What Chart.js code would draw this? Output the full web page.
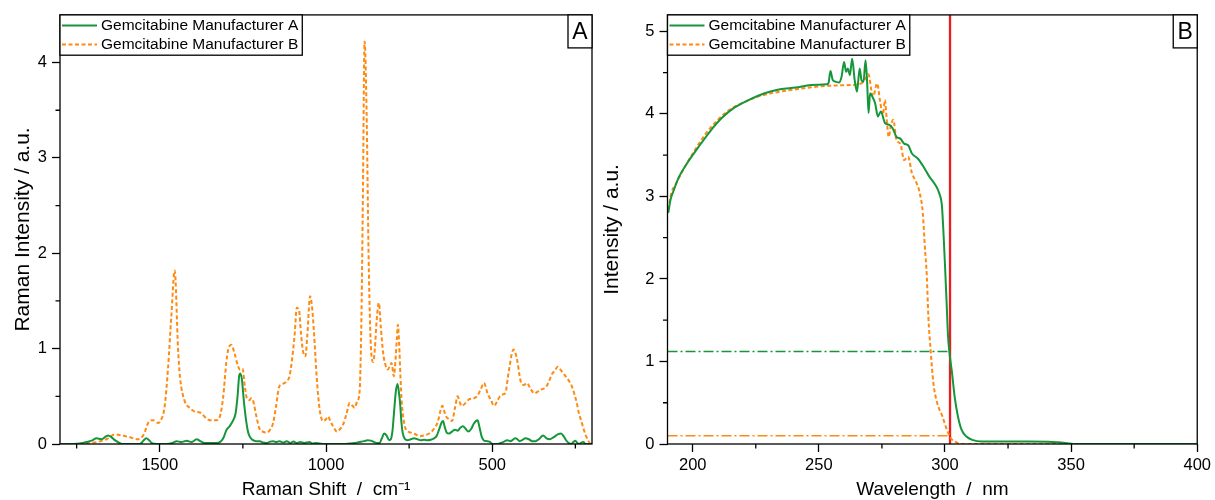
<!DOCTYPE html>
<html><head><meta charset="utf-8">
<script src="https://cdn.jsdelivr.net/npm/chart.js@4.4.1/dist/chart.umd.min.js"></script>
<style>
html,body{margin:0;padding:0;background:#fff;}
#wrap{position:relative;width:1215px;height:500px;overflow:hidden;background:#fff;}
canvas{position:absolute;top:0;}
#cA{left:0;} #cB{left:600px;}
</style></head><body>
<div id="wrap"><canvas id="cA" width="600" height="500"></canvas><canvas id="cB" width="615" height="500"></canvas></div>
<script>
// ---------- Panel A : Raman spectra ----------
const seriesNames = ['Gemcitabine Manufacturer A', 'Gemcitabine Manufacturer B'];

const ramanShiftA = [1800,1760,1740,1720,1705,1690,1675,1662,1655,1645,1635,1620,1610,1560,1548,1541,1532,1524,1510,1480,1462,1449,1435,1419,1405,1389,1378,1365,1349,1330,1319,1309,1299,1289,1279,1272,1266,1261,1258,1253,1247,1240,1234,1228,1220,1210,1199,1190,1179,1168,1159,1150,1140,1128,1118,1108,1098,1088,1078,1065,1050,1040,1030,1010,950,930,915,900,885,875,865,855,845,839,832,825,818,810,805,800,795,790,785,781,777,773,769,762,755,745,735,725,715,705,695,685,675,668,660,653,648,643,637,630,621,612,604,596,588,580,572,563,556,549,544,538,532,526,516,506,500,487,475,467,455,445,431,424,418,410,400,390,380,370,360,347,337,327,316,303,293,285,279,270,263,256,250,244,238,232,226,219,200];
const ramanIntA = [0,0,0.005,0.02,0.035,0.06,0.05,0.08,0.09,0.07,0.04,0.01,0,0,0.04,0.06,0.04,0.01,0,0,0.01,0.03,0.02,0.035,0.02,0.05,0.03,0.01,0.01,0.01,0.02,0.06,0.15,0.19,0.25,0.32,0.5,0.72,0.74,0.68,0.45,0.24,0.12,0.07,0.04,0.03,0.03,0.015,0.01,0.025,0.03,0.02,0.03,0.015,0.03,0.01,0.025,0.01,0.02,0.01,0.02,0.005,0.01,0,0,0.005,0.01,0.02,0.03,0.04,0.035,0.02,0.01,0.01,0.06,0.11,0.09,0.04,0.05,0.14,0.35,0.55,0.63,0.55,0.42,0.22,0.11,0.05,0.04,0.05,0.06,0.05,0.04,0.045,0.04,0.045,0.06,0.08,0.15,0.22,0.24,0.18,0.12,0.11,0.13,0.15,0.14,0.17,0.185,0.16,0.13,0.16,0.21,0.24,0.25,0.17,0.08,0.04,0.03,0.02,0,0,0.01,0.02,0.04,0.03,0.06,0.05,0.03,0.04,0.06,0.05,0.03,0.03,0.05,0.09,0.06,0.05,0.07,0.1,0.11,0.08,0.045,0.01,0,0.02,0.035,0.01,0,0.015,0.02,0,0];

const ramanShiftB = [1800,1760,1720,1690,1660,1635,1615,1590,1565,1548,1535,1520,1505,1495,1485,1475,1465,1455,1445,1439,1425,1410,1395,1379,1360,1349,1330,1320,1309,1300,1294,1285,1275,1265,1259,1251,1244,1238,1230,1225,1219,1210,1200,1190,1178,1168,1159,1150,1141,1130,1118,1109,1100,1094,1088,1081,1075,1069,1062,1056,1048,1041,1034,1028,1019,1009,1000,994,987,981,967,957,949,938,929,920,914,906,899,894,889,884,878,872,867,863,858,853,848,841,835,828,822,814,808,803,796,791,787,784,780,776,772,765,759,745,730,719,705,690,675,664,655,650,645,639,630,621,612,604,598,592,580,569,555,546,535,525,514,504,494,485,477,468,460,453,448,441,436,430,425,418,413,405,396,385,373,363,355,345,338,330,321,312,303,295,286,277,269,260,251,245,240,233,228,220,212,205];
const ramanIntB = [0,0,0.01,0.02,0.05,0.1,0.09,0.07,0.05,0.1,0.22,0.25,0.22,0.26,0.4,0.8,1.35,1.82,1.0,0.7,0.45,0.38,0.34,0.33,0.27,0.25,0.25,0.28,0.5,0.85,0.99,1.04,0.95,0.82,0.78,0.79,0.6,0.48,0.46,0.48,0.45,0.3,0.16,0.13,0.12,0.15,0.22,0.4,0.6,0.63,0.66,0.72,0.95,1.16,1.43,1.4,1.15,0.97,0.92,1.15,1.55,1.4,1.05,0.7,0.36,0.24,0.26,0.29,0.24,0.2,0.13,0.16,0.2,0.32,0.43,0.4,0.38,0.45,0.55,1.2,2.6,4.22,3.5,2.0,1.2,0.92,0.86,1.0,1.28,1.48,1.22,0.95,0.84,0.78,0.82,0.85,0.71,0.88,1.1,1.25,1.05,0.7,0.43,0.22,0.15,0.12,0.1,0.08,0.09,0.11,0.16,0.23,0.36,0.4,0.35,0.29,0.26,0.24,0.38,0.5,0.44,0.4,0.43,0.47,0.48,0.5,0.57,0.64,0.53,0.46,0.4,0.45,0.5,0.52,0.54,0.7,0.81,0.95,0.99,0.95,0.88,0.72,0.64,0.62,0.64,0.58,0.53,0.55,0.57,0.58,0.6,0.65,0.73,0.77,0.81,0.78,0.74,0.7,0.66,0.6,0.5,0.42,0.33,0.25,0.19,0.1,0.04,0];

const ramanMajorTicks = [500, 1000, 1500];
const ramanMinorTicks = [250, 750, 1250, 1750];
const ramanYMajorTicks = [0, 1, 2, 3, 4];
const ramanYMinorTicks = [0.5, 1.5, 2.5, 3.5];

// ---------- Panel B : UV spectra ----------
const wavelengthA = [190.3,191.2,192.3,194.6,197.7,202.3,206.9,211.5,216.2,222.3,228.5,234.6,240.8,246.9,253.1,253.8,254.6,255.5,256.6,258,259,260,260.8,261.5,262.3,263.2,264.2,265.1,266.2,266.9,267.7,268.5,269.1,269.7,270.3,271.2,272.3,273.4,274.6,276.2,277.7,279.2,280.8,282.3,283.8,285.4,286.9,289.2,291.5,293.8,296.2,297.7,298.8,299.5,300.1,300.6,301.2,301.8,302.8,303.8,305.1,306.6,308.5,310.8,314.6,333,340.8,345,348.5,350.8,400];
const intensityA = [2.8,2.96,3.06,3.24,3.4,3.6,3.79,3.95,4.07,4.17,4.25,4.3,4.32,4.35,4.36,4.37,4.52,4.41,4.39,4.38,4.45,4.63,4.51,4.55,4.47,4.67,4.41,4.27,4.55,4.41,4.39,4.65,4.41,4.01,4.25,4.21,4.13,3.97,4.03,3.89,3.87,3.83,3.72,3.7,3.64,3.62,3.52,3.46,3.36,3.24,3.14,3.04,2.88,2.5,2.1,1.75,1.31,1.1,0.86,0.58,0.34,0.17,0.09,0.05,0.03,0.03,0.028,0.02,0.01,0,0];

const wavelengthB = [190.3,191.5,193.1,196.2,200.8,205.4,210,214.6,220.8,226.9,234.6,243.8,253.1,262.3,266.9,268.5,269.7,270.8,271.5,273.1,274.3,275.4,276.2,276.9,277.7,278.5,279.5,280.8,282.3,283.8,285.4,286.9,288.5,290,291.2,292,292.8,293.4,294.3,295.4,296.9,298.9,300.8,302.3,304.6,306,400];
const intensityB = [2.84,3.04,3.14,3.32,3.56,3.77,3.93,4.05,4.15,4.22,4.27,4.31,4.34,4.35,4.37,4.43,4.48,4.29,4.21,4.37,4.15,3.99,4.17,3.93,3.72,3.85,3.93,3.68,3.64,3.44,3.48,3.28,3.18,3.04,2.8,2.4,2.03,1.55,1.14,0.74,0.5,0.34,0.17,0.07,0.02,0,0];

const cutoffWavelength = 302;
const levelA = 1.12;
const levelB = 0.10;
const uvXMajorTicks = [200, 250, 300, 350, 400];
const uvXMinorTicks = [225, 275, 325, 375];
const uvYMajorTicks = [0, 1, 2, 3, 4, 5];
const uvYMinorTicks = [0.5, 1.5, 2.5, 3.5, 4.5];

// ---------- styles ----------
const GREEN = '#16963a';
const ORANGE = '#ff8a12';
const RED = '#ee1c1c';
const FONT = '"Liberation Sans", Arial, sans-serif';
Chart.defaults.font.family = FONT;
Chart.defaults.color = '#000';

const zip = (xs, ys) => xs.map((x, i) => ({x, y: ys[i]}));

const framePlugin = {
  id: 'frame',
  afterDatasetsDraw(chart, args, opts) {
    const {ctx, chartArea: a} = chart;
    const xs = chart.scales.x, ys = chart.scales.y;
    ctx.save();
    ctx.strokeStyle = '#000';
    ctx.lineWidth = 1.3;
    ctx.setLineDash([]);
    ctx.beginPath();
    opts.xMinor.forEach(v => { const p = xs.getPixelForValue(v); ctx.moveTo(p, a.bottom); ctx.lineTo(p, a.bottom + 4.5); });
    opts.yMinor.forEach(v => { const p = ys.getPixelForValue(v); ctx.moveTo(a.left, p); ctx.lineTo(a.left - 4.5, p); });
    ctx.stroke();
    ctx.strokeRect(a.left, a.top, a.right - a.left, a.bottom - a.top);
    // legend
    ctx.font = '15.5px ' + FONT;
    const ds = chart.data.datasets.slice(0, 2);
    const tw = Math.max(...ds.map(d => ctx.measureText(d.label).width));
    const bw = tw + 45, bh = 40.3;
    ctx.fillStyle = '#fff';
    ctx.fillRect(a.left, a.top, bw, bh);
    ctx.strokeRect(a.left, a.top, bw, bh);
    ds.forEach((d, i) => {
      const y = a.top + 10.5 + i * 19;
      ctx.strokeStyle = d.borderColor; ctx.lineWidth = 2;
      ctx.setLineDash(d.borderDash || []);
      ctx.beginPath(); ctx.moveTo(a.left + 2, y); ctx.lineTo(a.left + 37, y); ctx.stroke();
      ctx.setLineDash([]);
      ctx.fillStyle = '#000'; ctx.textBaseline = 'middle'; ctx.textAlign = 'left';
      ctx.fillText(d.label, a.left + 41, y + 0.5);
    });
    // panel letter
    ctx.strokeStyle = '#000'; ctx.lineWidth = 1.3;
    ctx.fillStyle = '#fff';
    ctx.fillRect(a.right - 24, a.top, 24, 33);
    ctx.strokeRect(a.right - 24, a.top, 24, 33);
    ctx.fillStyle = '#000';
    ctx.font = '23px ' + FONT;
    ctx.textAlign = 'center'; ctx.textBaseline = 'middle';
    ctx.fillText(opts.letter, a.right - 12, a.top + 17.5);
    ctx.restore();
  }
};

function axisX(min, max, majors, minors, title, reverse) {
  return {
    type: 'linear', min, max, reverse,
    afterBuildTicks: s => { s.ticks = majors.concat(minors).sort((p, q) => p - q).map(v => ({value: v})); },
    afterFit: s => { s.height = 56; },
    ticks: {autoSkip: false, maxRotation: 0, padding: 4, font: {size: 16.5},
      callback: v => majors.includes(v) ? String(v) : ''},
    grid: {drawOnChartArea: false, drawTicks: true, tickLength: 8, tickWidth: 1.3,
      tickColor: c => (c.tick && majors.includes(c.tick.value)) ? '#000' : 'rgba(0,0,0,0)'},
    border: {display: false},
    title: {display: true, text: title, font: {size: 19, lineHeight: 1}, padding: {top: 0, bottom: 1}}
  };
}
function axisY(min, max, majors, minors, title, w, tpad) {
  return {
    type: 'linear', min, max,
    afterBuildTicks: s => { s.ticks = majors.concat(minors).sort((p, q) => p - q).map(v => ({value: v})); },
    afterFit: s => { s.width = w; },
    ticks: {autoSkip: false, padding: 5, font: {size: 16.5},
      callback: v => majors.includes(v) ? String(v) : ''},
    grid: {drawOnChartArea: false, drawTicks: true, tickLength: 8, tickWidth: 1.3,
      tickColor: c => (c.tick && majors.includes(c.tick.value)) ? '#000' : 'rgba(0,0,0,0)'},
    border: {display: false},
    title: {display: true, text: title, font: {size: 21, lineHeight: 1}, padding: {top: tpad, bottom: 0}}
  };
}

const lineBase = {pointRadius: 0, borderWidth: 2, fill: false, cubicInterpolationMode: 'monotone'};

new Chart(document.getElementById('cA'), {
  type: 'line',
  data: {datasets: [
    Object.assign({label: seriesNames[0], data: zip(ramanShiftA, ramanIntA), borderColor: GREEN}, lineBase),
    Object.assign({label: seriesNames[1], data: zip(ramanShiftB, ramanIntB), borderColor: ORANGE, borderDash: [4, 2.5]}, lineBase)
  ]},
  options: {
    responsive: false, animation: false, devicePixelRatio: 1,
    layout: {padding: {top: 14.7, right: 8, bottom: 0, left: 0}},
    plugins: {legend: {display: false}, tooltip: {enabled: false},
      frame: {letter: 'A', xMinor: ramanMinorTicks, yMinor: ramanYMinorTicks}},
    scales: {
      x: axisX(200, 1800, ramanMajorTicks, ramanMinorTicks, 'Raman Shift  /  cm\u207B\u00B9', true),
      y: axisY(0, 4.5, ramanYMajorTicks, ramanYMinorTicks, 'Raman Intensity / a.u.', 60, 12.5)
    }
  },
  plugins: [framePlugin]
});

new Chart(document.getElementById('cB'), {
  type: 'line',
  data: {datasets: [
    Object.assign({label: seriesNames[0], data: zip(wavelengthA, intensityA), borderColor: GREEN}, lineBase),
    Object.assign({label: seriesNames[1], data: zip(wavelengthB, intensityB), borderColor: ORANGE, borderDash: [4, 2.5]}, lineBase),
    {label: 'cutoff', data: [{x: cutoffWavelength, y: 0}, {x: cutoffWavelength, y: 5.2}], borderColor: RED, borderWidth: 2.3, pointRadius: 0, fill: false},
    {label: 'levelA', data: [{x: 190, y: levelA}, {x: cutoffWavelength, y: levelA}], borderColor: GREEN, borderWidth: 1.5, borderDash: [10, 3, 2, 3], pointRadius: 0, fill: false},
    {label: 'levelB', data: [{x: 190, y: levelB}, {x: cutoffWavelength, y: levelB}], borderColor: ORANGE, borderWidth: 1.5, borderDash: [10, 3, 2, 3], pointRadius: 0, fill: false}
  ]},
  options: {
    responsive: false, animation: false, devicePixelRatio: 1,
    layout: {padding: {top: 14.7, right: 14.3, bottom: 0, left: 0}},
    plugins: {legend: {display: false}, tooltip: {enabled: false},
      frame: {letter: 'B', xMinor: uvXMinorTicks, yMinor: uvYMinorTicks}},
    scales: {
      x: axisX(190, 400, uvXMajorTicks, uvXMinorTicks, 'Wavelength  /  nm', false),
      y: axisY(0, 5.2, uvYMajorTicks, uvYMinorTicks, 'Intensity / a.u.', 67.5, 1.5)
    }
  },
  plugins: [framePlugin]
});
</script>
</body></html>
